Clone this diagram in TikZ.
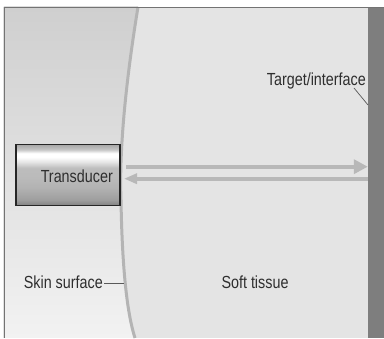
\documentclass[tikz,border=0pt]{standalone}
\usepackage{fontspec}
\setmainfont{Liberation Sans}[FakeStretch=0.82]
\usetikzlibrary{arrows.meta}

% metallic bands of the transducer face
\pgfdeclareverticalshading{metal}{100bp}{%
  color(0bp)=(black!50);
  color(25bp)=(black!50);
  color(30bp)=(black!38);
  color(40bp)=(black!30);
  color(48bp)=(black!27);
  color(56bp)=(black!26);
  color(61bp)=(black!10);
  color(65bp)=(white);
  color(68bp)=(white);
  color(71bp)=(black!22);
  color(75bp)=(black!34);
  color(100bp)=(black!34)}

\definecolor{tissue}{HTML}{E4E4E4}
\definecolor{geltop}{HTML}{CFCFCF}
\definecolor{gelbot}{HTML}{F2F2F2}
\definecolor{skin}{HTML}{B4B4B4}
\definecolor{band}{HTML}{7E7E7E}
\definecolor{beamgray}{HTML}{B8B8B8}
\definecolor{ink}{HTML}{2E2E2E}

\tikzset{
  lbl/.style={text=ink, inner sep=0pt, font=\fontsize{17.5}{20}\selectfont},
  leader/.style={draw=black!65, line width=0.7pt},
  beam/.style={draw=beamgray, fill=beamgray, line width=4pt},
  probe/.style={draw=black!85, line width=1.3pt, shading=metal,
    minimum width=104pt, minimum height=61pt, inner sep=0pt},
}

\begin{document}
\begin{tikzpicture}[x=1pt,y=-1pt]
\useasboundingbox (0,0) rectangle (384,339);

% soft tissue background
\fill[tissue] (4,7) rectangle (368,338);

% coupling region left of the skin line
\fill[top color=geltop, bottom color=gelbot]
  (4,7) -- (138,7) .. controls (126,80) and (119,150) .. (121,200)
  .. controls (122,260) and (126,310) .. (135,338) -- (4,338) -- cycle;

% skin surface
\draw[skin, line width=3pt]
  (138,7) .. controls (126,80) and (119,150) .. (121,200)
  .. controls (122,260) and (126,310) .. (135,338);

% reflecting target / interface
\node[fill=band, minimum width=16pt, minimum height=331pt, inner sep=0pt] (iface) at (376,172.5) {};

% frame
\draw[black!55, line width=0.8pt] (384,7) -- (4,7) -- (4,338);

% transducer
\node[probe] (tr) at (68,175.3) {};
\node[lbl, anchor=base east] (trl) at (113,183) {Transducer};

% transmitted and echoed beams
\coordinate (txs) at (126,166.7);
\coordinate (rxe) at (124,178.7);
\draw[beam, -{Triangle[length=14pt,width=14pt]}] (txs) -- (txs -| iface.west);
\draw[beam, -{Triangle[length=13pt,width=10pt]}] (rxe -| iface.west) -- (rxe);

% labels
\node[lbl, anchor=base east] (tgl) at (366,86) {Target/interface};
\draw[leader] (354,88) -- (368,105);

\node[lbl, anchor=base east] (skl) at (103,289) {Skin surface};
\coordinate (skp) at (123.5,283);
\draw[leader] (skl.east |- skp) ++(1,0) -- (skp);

\node[lbl, anchor=base] (stl) at (255,289) {Soft tissue};
\end{tikzpicture}
\end{document}
